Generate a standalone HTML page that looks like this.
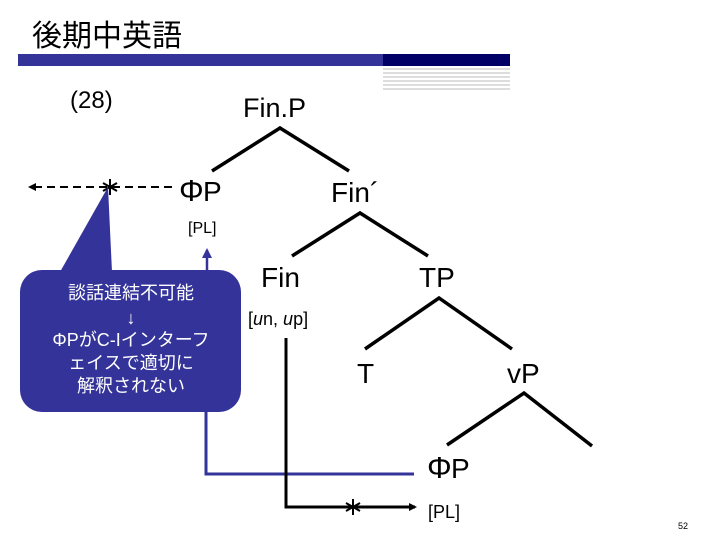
<!DOCTYPE html>
<html><head><meta charset="utf-8"><style>
html,body{margin:0;padding:0;background:#fff;width:720px;height:540px;overflow:hidden}
svg{display:block}
text{font-family:"Liberation Sans","Noto Sans CJK JP",sans-serif}
</style></head><body>
<svg width="720" height="540" viewBox="0 0 720 540" xmlns="http://www.w3.org/2000/svg">
<defs>
<marker id="ab" markerWidth="8" markerHeight="8" refX="6" refY="4" orient="auto" markerUnits="userSpaceOnUse"><path d="M0,0 L8,4 L0,8 z" fill="#000"/></marker>
<marker id="ah" markerWidth="10" markerHeight="10" refX="8" refY="5" orient="auto" markerUnits="userSpaceOnUse"><path d="M0,0 L10,5 L0,10 z" fill="#333399"/></marker>
<g id="ast" stroke="#000" stroke-width="2"><line x1="0" y1="-8" x2="0" y2="8"/><line x1="-7" y1="-4" x2="7" y2="4"/><line x1="-7" y1="4" x2="7" y2="-4"/></g>
</defs>
<text x="32" y="46" font-size="30" fill="#000">後期中英語</text>
<rect x="18" y="54" width="365" height="12" fill="#333399"/>
<rect x="383" y="54" width="127" height="12" fill="#000066"/>
<g stroke="#bbb" stroke-width="1">
<line x1="383" y1="69" x2="510" y2="69"/><line x1="383" y1="73" x2="510" y2="73"/><line x1="383" y1="77" x2="510" y2="77"/><line x1="383" y1="81" x2="510" y2="81"/><line x1="383" y1="85" x2="510" y2="85"/><line x1="383" y1="89" x2="510" y2="89"/>
</g>
<text x="70" y="108" font-size="24">(28)</text>
<text x="243" y="117" font-size="27">Fin.P</text>
<g stroke="#000" stroke-width="3.5" fill="none">
<polyline points="212,171 280,128 349,171"/>
<polyline points="292,256 360,213 428,256"/>
<polyline points="365,349 439,298 512,349"/>
<polyline points="447,445 524,393 592,446"/>
</g>
<text x="179" y="201" font-size="31" font-family="Liberation Serif">Φ</text><text x="203" y="201" font-size="28">P</text>
<text x="331" y="202" font-size="28">Fin´</text>
<text x="188" y="233" font-size="16">[PL]</text>
<text x="261" y="287" font-size="28">Fin</text>
<text x="419" y="287" font-size="28">TP</text>
<text x="248" y="325" font-size="18">[<tspan font-style="italic">u</tspan>n, <tspan font-style="italic">u</tspan>p]</text>
<text x="357" y="383" font-size="28">T</text>
<text x="507" y="383" font-size="28">vP</text>
<text x="427" y="478" font-size="31" font-family="Liberation Serif">Φ</text><text x="451" y="478" font-size="28">P</text>
<text x="428" y="518" font-size="18">[PL]</text>
<text x="678" y="529" font-size="9">52</text>
<!-- dashed arrow -->
<line x1="172" y1="187" x2="30" y2="187" stroke="#000" stroke-width="2" stroke-dasharray="8,5" marker-end="url(#ab)"/>
<use href="#ast" x="110" y="187"/>
<!-- callout -->
<path d="M60,272 L108,187 L112,272 Z" fill="#333399"/>
<rect x="20" y="270" width="221" height="142" rx="22" fill="#333399"/>
<g fill="#fff" font-size="18" text-anchor="middle">
<text x="131" y="299">談話連結不可能</text>
<text x="131" y="324">↓</text>
<text x="131" y="346">ΦPがC-Iインターフ</text>
<text x="131" y="369">ェイスで適切に</text>
<text x="131" y="392">解釈されない</text>
</g>
<!-- blue connector -->
<line x1="207" y1="270" x2="207" y2="250" stroke="#333399" stroke-width="2.5" marker-end="url(#ah)"/>
<polyline points="206,412 206,474 414,474" fill="none" stroke="#333399" stroke-width="3"/>
<!-- black connector -->
<polyline points="286,338 286,507 415,507" fill="none" stroke="#000" stroke-width="3" marker-end="url(#ab)"/>
<use href="#ast" x="353" y="507"/>
</svg>
</body></html>
